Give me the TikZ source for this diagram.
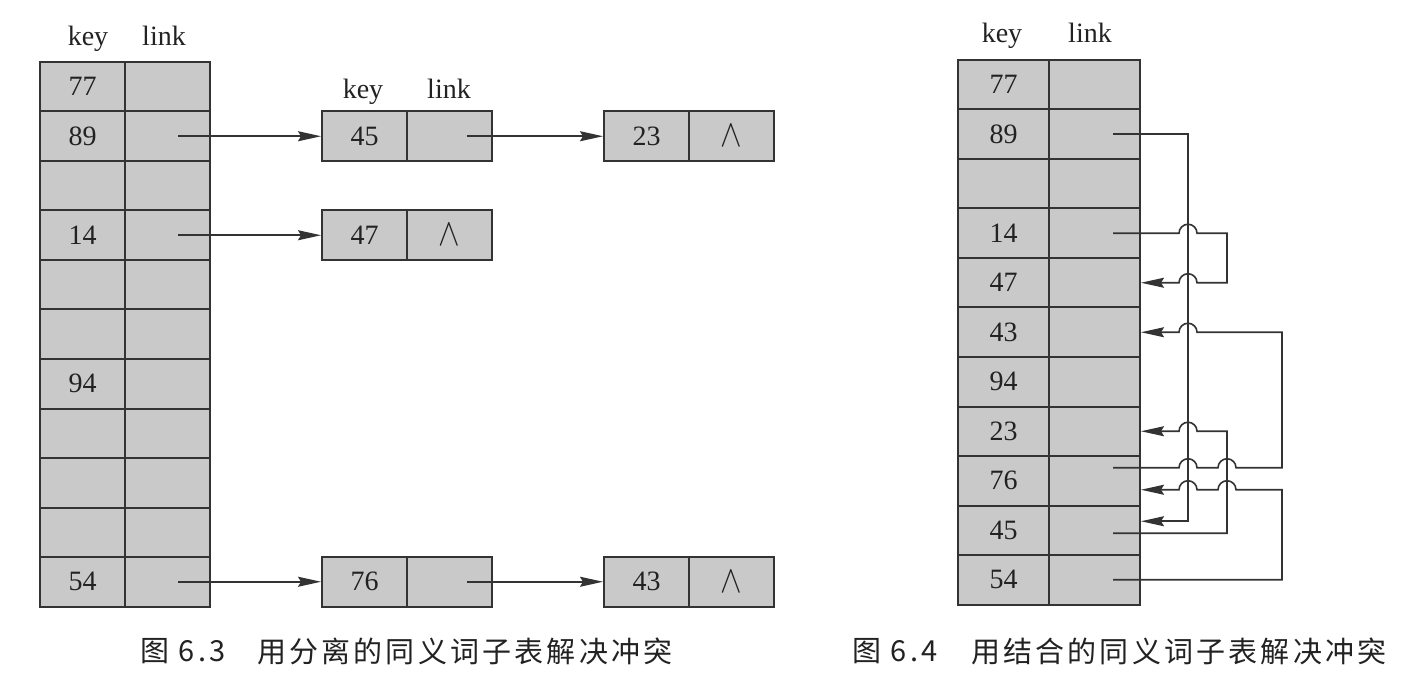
\documentclass[tikz,border=0pt]{standalone}
\usepackage{fontspec}
\setmainfont{Liberation Serif}
\newfontfamily\cjk[LetterSpace=11]{Noto Sans CJK SC}
\usetikzlibrary{arrows.meta,calc}
\definecolor{cellfill}{HTML}{C9C9C9}
\definecolor{linec}{HTML}{333333}
\definecolor{textc}{HTML}{222222}
\newcommand{\nilsym}{\scalebox{1.3}[1.55]{$\wedge$}}
\begin{document}
\begin{tikzpicture}[x=1pt,y=-1pt,
  every node/.style={text=textc},
  cell/.style={draw=linec, line width=2pt, fill=cellfill, minimum height=49.5pt,
    inner sep=0pt, font=\fontsize{28}{30}\selectfont},
  lcell/.style={cell, minimum width=85pt},
  rcell/.style={cell, minimum width=91pt},
  nilmark/.style={inner sep=0pt, font=\fontsize{24.88}{26}\selectfont},
  head/.style={anchor=base, inner sep=0pt, font=\fontsize{28}{30}\selectfont},
  capt/.style={anchor=west, inner sep=0pt, font=\cjk\fontsize{29}{31}\selectfont},
  conn/.style={draw=linec, line width=1.6pt},
  arr/.style={conn, -{Stealth[length=23pt,width=10pt,inset=3pt]}},
]
\useasboundingbox (0,0) rectangle (1426,684);
\fill[white] (0,0) rectangle (1426,684);

% ---------- left figure: separate synonym sublists ----------
\node[head] (lhk) at (88,46) {key};
\node[head] (lhl) at (164,46) {link};
\foreach \v [count=\i] in {77,89,{},14,{},{},94,{},{},{},54}{
  \node[lcell] (Lk\i) at (82.5,{62+49.5*(\i-0.5)}) {\v};
  \node[lcell] (Ll\i) at (167.5,{62+49.5*(\i-0.5)}) {};
}

\node[head] (nhk) at (363,99) {key};
\node[head] (nhl) at (449,99) {link};

\node[lcell] (A45k) at (364.5,0 |- Ll2.center) {45};
\node[lcell] (A45l) at (449.5,0 |- Ll2.center) {};
\node[lcell] (A23k) at (646.5,0 |- Ll2.center) {23};
\node[lcell] (A23l) at (731.5,0 |- Ll2.center) {};
\node[nilmark] (A23n) at (A23l.center) {\nilsym};

\node[lcell] (A47k) at (364.5,0 |- Ll4.center) {47};
\node[lcell] (A47l) at (449.5,0 |- Ll4.center) {};
\node[nilmark] (A47n) at (A47l.center) {\nilsym};

\node[lcell] (A76k) at (364.5,0 |- Ll11.center) {76};
\node[lcell] (A76l) at (449.5,0 |- Ll11.center) {};
\node[lcell] (A43k) at (646.5,0 |- Ll11.center) {43};
\node[lcell] (A43l) at (731.5,0 |- Ll11.center) {};
\node[nilmark] (A43n) at (A43l.center) {\nilsym};

\draw[arr] ([xshift=10.5pt]Ll2.center) -- (A45k.west);
\draw[arr] ([xshift=17pt]A45l.center) -- (A23k.west);
\draw[arr] ([xshift=10.5pt]Ll4.center) -- (A47k.west);
\draw[arr] ([xshift=10.5pt]Ll11.center) -- (A76k.west);
\draw[arr] ([xshift=17pt]A76l.center) -- (A43k.west);

\node[capt] (cap1n) at (140,651) {图 6.3};
\node[capt] (cap1t) at (257,651) {用分离的同义词子表解决冲突};

% ---------- right figure: coalesced synonym sublists ----------
\node[head] (rhk) at (1002,43) {key};
\node[head] (rhl) at (1090,43) {link};
\foreach \v [count=\i] in {77,89,{},14,47,43,94,23,76,45,54}{
  \node[rcell] (Rk\i) at (1003.5,{60+49.5*(\i-0.5)}) {\v};
  \node[rcell] (Rl\i) at (1094.5,{60+49.5*(\i-0.5)}) {};
}

\coordinate (busA) at (1188,0);
\coordinate (busB) at (1227,0);
\coordinate (busC) at (1282,0);

\coordinate (o89) at ([xshift=18.5pt]Rl2.center);
\coordinate (o14) at ([xshift=18.5pt]Rl4.center);
\coordinate (o76) at ([xshift=18.5pt,yshift=13pt]Rl9.center);
\coordinate (o45) at ([xshift=18.5pt,yshift=-3pt]Rl10.center);
\coordinate (o54) at ([xshift=18.5pt]Rl11.center);
\coordinate (i47) at (Rl5.east);
\coordinate (i43) at (Rl6.east);
\coordinate (i23) at (Rl8.east);
\coordinate (i76) at ([yshift=-9pt]Rl9.east);
\coordinate (i45) at ([yshift=9pt]Rl10.east);

% 89 -> 45
\draw[arr] (o89) -- (o89 -| busA) -- (busA |- i45) -- (i45);
% 14 -> 47
\draw[arr] (o14) -- ($(o14 -| busA)+(-9,0)$) arc[start angle=180,end angle=0,radius=9pt]
  -- (o14 -| busB) -- (busB |- i47)
  -- ($(i47 -| busA)+(9,0)$) arc[start angle=0,end angle=180,radius=9pt] -- (i47);
% 76 -> 43
\draw[arr] (o76) -- ($(o76 -| busA)+(-9,0)$) arc[start angle=180,end angle=0,radius=9pt]
  -- ($(o76 -| busB)+(-9,0)$) arc[start angle=180,end angle=0,radius=9pt]
  -- (o76 -| busC) -- (busC |- i43)
  -- ($(i43 -| busA)+(9,0)$) arc[start angle=0,end angle=180,radius=9pt] -- (i43);
% 54 -> 76
\draw[arr] (o54) -- (o54 -| busC) -- (busC |- i76)
  -- ($(i76 -| busB)+(9,0)$) arc[start angle=0,end angle=180,radius=9pt]
  -- ($(i76 -| busA)+(9,0)$) arc[start angle=0,end angle=180,radius=9pt] -- (i76);
% 45 -> 23
\draw[arr] (o45) -- (o45 -| busB) -- (busB |- i23)
  -- ($(i23 -| busA)+(9,0)$) arc[start angle=0,end angle=180,radius=9pt] -- (i23);

\node[capt] (cap2n) at (852,651) {图 6.4};
\node[capt] (cap2t) at (971,651) {用结合的同义词子表解决冲突};
\end{tikzpicture}
\end{document}
